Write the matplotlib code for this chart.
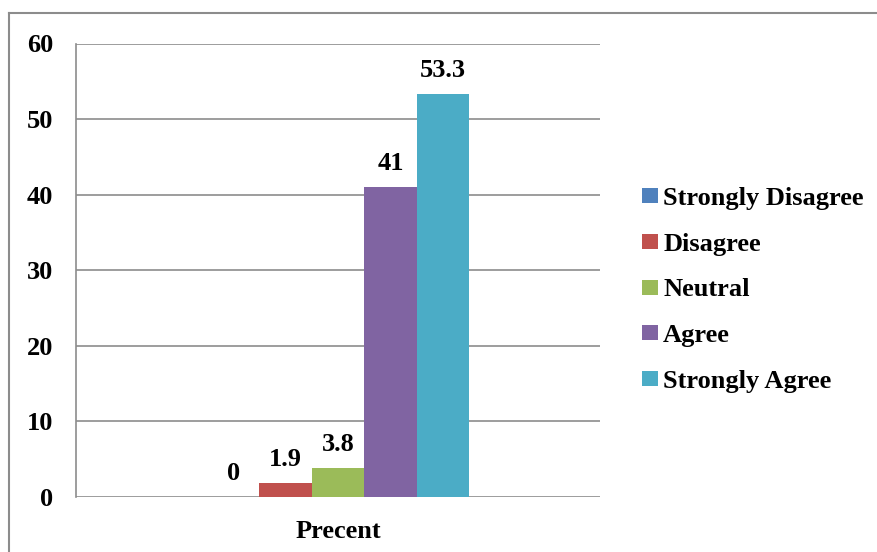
import matplotlib
matplotlib.use("Agg")
import matplotlib.pyplot as plt
from matplotlib.lines import Line2D
from matplotlib.patches import Patch

plt.rcParams['font.family'] = ['Liberation Serif', 'DejaVu Serif']
plt.rcParams['font.weight'] = 'bold'

category = "Precent"
responses = ["Strongly Disagree", "Disagree", "Neutral", "Agree", "Strongly Agree"]
values = [0, 1.9, 3.8, 41, 53.3]
value_labels = ["0", "1.9", "3.8", "41", "53.3"]
colors = ["#4F81BD", "#C0504D", "#9BBB59", "#8064A2", "#4BACC6"]
yticks = [0, 10, 20, 30, 40, 50, 60]

W, H = 878, 552
fig = plt.figure(figsize=(W / 100, H / 100), dpi=100)
ax = fig.add_axes([76 / W, 1 - 497 / H, (600 - 76) / W, (497 - 43.5) / H])

grid_c = "#8C8C8C"
bar_w = 0.1
n = len(values)
for i, (v, c, lab, txt) in enumerate(zip(values, colors, responses, value_labels)):
    x = (i - (n - 1) / 2) * bar_w
    ax.bar(x, v, width=bar_w, color=c, label=lab, zorder=3)
    ax.annotate(txt, (x, v), xytext=(0, 12.3), textcoords="offset points",
                ha="center", va="baseline", fontsize=19, fontweight="bold")

ax.set_xlim(-0.5, 0.5)
ax.set_ylim(0, 60)
ax.set_yticks(yticks)
ax.set_yticklabels([str(t) for t in yticks])
ax.set_xticks([0])
ax.set_xticklabels([category])
ax.tick_params(axis="y", length=0, pad=16.5, labelsize=19)
ax.tick_params(axis="x", length=0, pad=16.5, labelsize=19)
for lbl in ax.get_xticklabels() + ax.get_yticklabels():
    lbl.set_fontweight("bold")

ax.yaxis.grid(True, color=grid_c, linewidth=1.2, zorder=0)
for s in ["top", "right", "bottom"]:
    ax.spines[s].set_visible(False)
ax.spines["left"].set_color(grid_c)
ax.spines["left"].set_linewidth(1.2)

handles = [Patch(facecolor=c, edgecolor="none") for c in colors]
fig.legend(handles, responses, loc="center left",
           bbox_to_anchor=(642 / W, 1 - 290 / H), frameon=False,
           prop={"family": "Liberation Serif", "weight": "bold", "size": 19},
           handlelength=0.6, handleheight=0.5, handletextpad=0.2,
           labelspacing=0.86, borderpad=0, borderaxespad=0)

# outer frame (top and left edges)
fig.add_artist(Line2D([9 / W, 1.0], [1 - 13 / H, 1 - 13 / H], color=grid_c,
                      linewidth=1.5, transform=fig.transFigure))
fig.add_artist(Line2D([9 / W, 9 / W], [1 - 13 / H, 0.0], color=grid_c,
                      linewidth=1.5, transform=fig.transFigure))

fig.savefig("out.png", dpi=100)
